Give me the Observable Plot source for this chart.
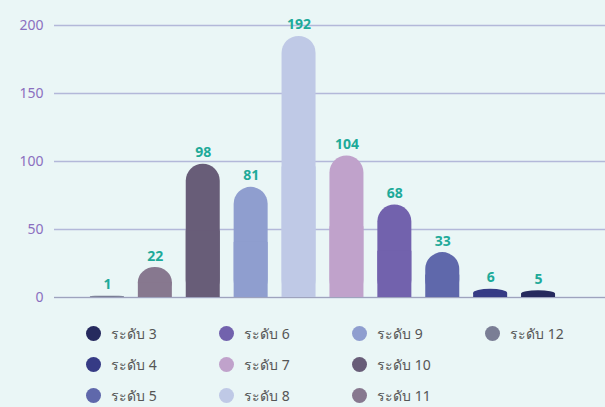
<!DOCTYPE html>
<html><head><meta charset="utf-8">
<script src="https://cdn.jsdelivr.net/npm/d3@7"></script>
<script src="https://cdn.jsdelivr.net/npm/@observablehq/plot@0.6"></script>
<style>
html,body{margin:0;padding:0;background:#eaf6f6;width:605px;height:407px;overflow:hidden;font-family:"Noto Sans",sans-serif;}
#legend{position:absolute;left:86px;top:318px;display:grid;grid-template-rows:repeat(3,31px);grid-auto-flow:column;grid-auto-columns:133px;}
.item{display:flex;align-items:center;font-size:14px;color:#555;}
.dot{width:15px;height:15px;border-radius:50%;margin-right:10px;flex:none;}
</style></head>
<body>
<div id="chart"></div>
<div id="legend"></div>
<script>
const categories = ["ระดับ 12","ระดับ 11","ระดับ 10","ระดับ 9","ระดับ 8","ระดับ 7","ระดับ 6","ระดับ 5","ระดับ 4","ระดับ 3"];
const values = [1,22,98,81,192,104,68,33,6,5];
const colors = ["#7a7e95","#87788f","#685d78","#8f9ecf","#bfc9e6","#c0a2cb","#7262ad","#5f68ab","#363b85","#262a5e"];
const legendOrder = ["ระดับ 3","ระดับ 4","ระดับ 5","ระดับ 6","ระดับ 7","ระดับ 8","ระดับ 9","ระดับ 10","ระดับ 11","ระดับ 12"];
const yTicks = [0,50,100,150,200];

const data = categories.map((c,i)=>({cat:c, value:values[i]}));
const colorOf = Object.fromEntries(categories.map((c,i)=>[c,colors[i]]));

const chart = Plot.plot({
  width:605, height:310,
  marginLeft:54, marginRight:0, marginTop:25, marginBottom:13,
  style:{background:"transparent", fontFamily:"Noto Sans, sans-serif"},
  x:{domain:categories, range:[83,562], paddingInner:0.29, paddingOuter:0.145, round:false, axis:null},
  y:{domain:[0,200], ticks:yTicks},
  color:{domain:categories, range:colors},
  marks:[
    Plot.ruleY(yTicks,{stroke:"#b3b8d9", strokeWidth:1.3}),
    Plot.axisY({ticks:yTicks, tickSize:0, tickPadding:11, fontSize:14, color:"#8a6fbf", label:null}),
    Plot.barY(data,{x:"cat", y:"value", fill:"cat", rx:17}),
    Plot.barY(data,{x:"cat", y1:0, y2:d=>d.value/2, fill:"cat"}),
    Plot.ruleY([0],{stroke:"#9ea3bd", strokeWidth:1.2}),
    Plot.text(data,{x:"cat", y:"value", text:d=>String(d.value), lineAnchor:"bottom", dy:-7, fill:"#1eaa99", fontWeight:"bold", fontSize:14})
  ]
});
document.getElementById("chart").appendChild(chart);

const leg = document.getElementById("legend");
for(const c of legendOrder){
  const it=document.createElement("div");it.className="item";
  const d=document.createElement("span");d.className="dot";d.style.background=colorOf[c];
  const t=document.createElement("span");t.textContent=c;
  it.appendChild(d);it.appendChild(t);leg.appendChild(it);
}
</script>
</body></html>
